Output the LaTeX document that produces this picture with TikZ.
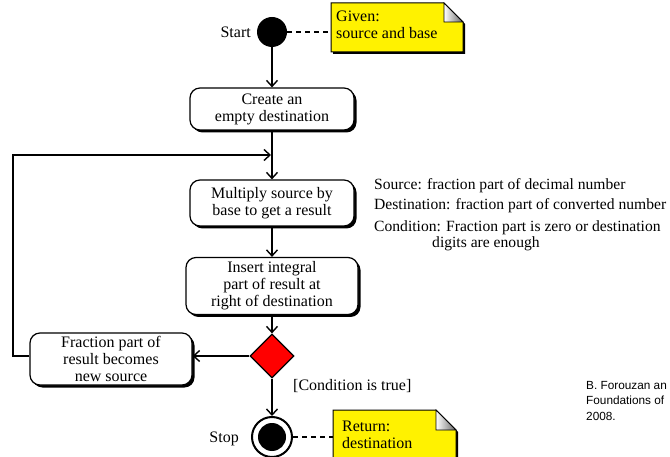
\documentclass[tikz,border=0pt]{standalone}
\usepackage{fontspec}
\setmainfont{Liberation Serif}
\newfontfamily\serifface{Liberation Serif}
\newfontfamily\creditfont{Liberation Sans}
\usetikzlibrary{arrows.meta,shadows,shapes.geometric,calc}

\begin{document}
\begin{tikzpicture}[x=1pt,y=-1pt,
  flow/.style={line width=1.4pt,-{Straight Barb[length=6pt,width=11pt,line width=1.4pt]}},
  action/.style={draw,line width=1.2pt,rounded corners=10pt,fill=white,align=center,
    font=\serifface\fontsize{16}{17}\selectfont,inner sep=0pt,
    drop shadow={shadow xshift=2.5pt,shadow yshift=-2.5pt,opacity=1,fill=black}},
  choice/.style={diamond,draw,line width=1.2pt,fill=red,inner sep=0pt,minimum width=44pt,minimum height=44pt},
  notefill/.style={fill=yellow,draw=black,line width=1pt},
  notetext/.style={anchor=west,align=left,inner sep=0pt,font=\serifface\fontsize{16}{16.5}\selectfont},
  label/.style={inner sep=0pt,font=\serifface\fontsize{16}{17}\selectfont},
  sidetext/.style={anchor=west,inner sep=0pt,font=\serifface\fontsize{15.6}{16}\selectfont},
  notelink/.style={line width=1.4pt,dash pattern=on 5pt off 4pt},
]
\useasboundingbox (0,0) rectangle (670,457);
\clip (0,0) rectangle (670,457);

% start and stop
\node[circle,fill=black,minimum size=30pt,inner sep=0pt] (start) at (272,32) {};
\node[label,anchor=east] (startlbl) at (251,32) {Start};
\node[circle,draw,line width=2pt,fill=white,minimum size=40pt,inner sep=0pt] (stop) at (272,437) {};
\fill (stop.center) circle (14);
\node[label,anchor=east] (stoplbl) at (239,439) {Stop};

% actions
\node[action,minimum width=164pt,minimum height=42pt] (create) at (272,109)
  {Create an\\empty destination};
\node[action,minimum width=164pt,minimum height=46pt] (multiply) at (272,203)
  {Multiply source by\\base to get a result};
\node[action,minimum width=172pt,minimum height=57pt] (insert) at (272,286)
  {Insert integral\\part of result at\\right of destination};
\node[choice] (test) at (272,356) {};
\node[action,minimum width=162pt,minimum height=52pt] (fraction) at (111,359)
  {Fraction part of\\result becomes\\new source};

% flow
\coordinate (merge) at (271,155);
\draw[flow] (start) -- (create);
\draw[flow] (create) -- (multiply);
\draw[flow] (multiply) -- (insert);
\draw[flow] (insert) -- (test);
\draw[flow] (test) -- (stop);
\draw[flow] (test.west) -- (fraction.east |- test.west);
\draw[flow] (fraction.west |- test.west) -- (13,356) |- (merge);
\node[label,anchor=west] (cond) at (293,386) {[Condition is true]};

% note: given
\fill[black] (333,5) -- (446,5) -- (465,24) -- (465,54) -- (333,54) -- cycle;
\path[notefill] (331,3) -- (444,3) -- (463,22) -- (463,52) -- (331,52) -- cycle;
\shade[left color=white,right color=gray!80!black,draw=black,line width=0.8pt]
  (444,3) -- (444,22) -- (463,22) -- cycle;
\coordinate (givenleft) at (331,32);
\node[notetext] (given) at (336,25) {Given:\\source and base};
\draw[notelink] (start.east) -- (givenleft);

% note: return
\fill[black] (335,412) -- (438,412) -- (458,432) -- (458,470) -- (335,470) -- cycle;
\path[notefill] (333,410) -- (436,410) -- (456,430) -- (456,468) -- (333,468) -- cycle;
\shade[left color=white,right color=gray!80!black,draw=black,line width=0.8pt]
  (436,410) -- (436,430) -- (456,430) -- cycle;
\coordinate (returnleft) at (333,437);
\node[notetext] (ret) at (342,435) {Return:\\destination};
\draw[notelink] (stop.east) -- (returnleft);

% legend
\node[sidetext] (src) at (374,186) {Source: fraction part of decimal number};
\node[sidetext] (dst) at (374,206) {Destination: fraction part of converted number};
\node[sidetext] (cnd) at (374,228) {Condition: Fraction part is zero or destination};
\node[sidetext] (cnd2) at (432,244) {digits are enough};

% credit
\node[anchor=north west,align=left,inner sep=0pt,font=\creditfont\fontsize{11.8}{15.5}\selectfont] (credit) at (586,381)
  {B. Forouzan an\\Foundations of\\2008.};
\end{tikzpicture}
\end{document}
